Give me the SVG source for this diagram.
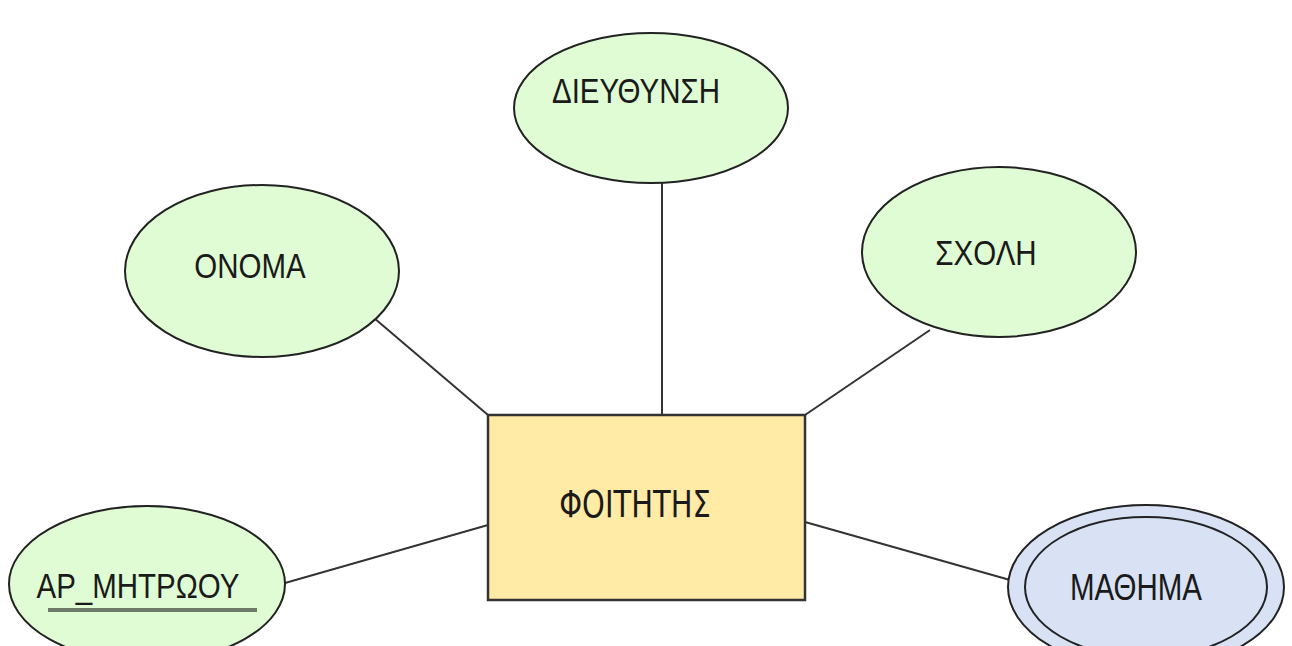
<svg xmlns="http://www.w3.org/2000/svg" width="1292" height="646" viewBox="0 0 1292 646">
  <style>
    .attr { fill: #dffcd4; stroke: #222; stroke-width: 2; }
    .multi { fill: #d8e2f4; stroke: #222; stroke-width: 2; }
    .entity { fill: #ffeba6; stroke: #333; stroke-width: 2.5; }
    .lbl { font-family: "Liberation Sans", Arial, sans-serif; font-size: 29.5px; fill: #1a1a1a; text-anchor: middle; }
    .elbl { font-family: "DejaVu Sans", Verdana, sans-serif; font-size: 29px; fill: #1a1a1a; text-anchor: middle; }
    .edge { stroke: #333; stroke-width: 2; fill: none; }
  </style>
  <rect width="1292" height="646" fill="#ffffff"/>

  <!-- connectors between the entity and its attributes -->
  <g id="connectors">
    <line class="edge" x1="662" y1="183" x2="662" y2="415"/>
    <line class="edge" x1="374" y1="318" x2="488" y2="415"/>
    <line class="edge" x1="930" y1="330" x2="805" y2="415"/>
    <line class="edge" x1="285" y1="583" x2="488" y2="525"/>
    <line class="edge" x1="805" y1="522" x2="1010" y2="580"/>
  </g>

  <g id="dieythynsh">
    <ellipse class="attr" cx="651" cy="108" rx="137" ry="75"/>
    <text class="lbl" transform="translate(636,103) scale(1,1.2)">ΔΙΕΥΘΥΝΣΗ</text>
  </g>

  <g id="onoma">
    <ellipse class="attr" cx="262" cy="271" rx="137" ry="86"/>
    <text class="lbl" transform="translate(250,278) scale(1,1.2)">ΟΝΟΜΑ</text>
  </g>

  <g id="sxolh">
    <ellipse class="attr" cx="999" cy="252" rx="137" ry="85"/>
    <text class="lbl" transform="translate(986,265) scale(1,1.2)">ΣΧΟΛΗ</text>
  </g>

  <g id="ar-mhtrwoy">
    <ellipse class="attr" cx="147" cy="584" rx="138" ry="78"/>
    <text class="lbl" transform="translate(138,598) scale(1,1.2)">ΑΡ_ΜΗΤΡΩΟΥ</text>
    <line x1="48" y1="610" x2="257" y2="610" stroke="#6e7868" stroke-width="4"/>
  </g>

  <g id="mathhma">
    <ellipse class="multi" cx="1146" cy="587" rx="138" ry="82"/>
    <ellipse class="multi" cx="1146" cy="587" rx="121" ry="70"/>
    <text class="lbl" transform="translate(1136,600) scale(1,1.25)">ΜΑΘΗΜΑ</text>
  </g>

  <g id="foithths">
    <rect class="entity" x="488" y="415" width="317" height="185"/>
    <text class="elbl" transform="translate(635,517) scale(1,1.28)">ΦΟΙΤΗΤΗΣ</text>
  </g>
</svg>
